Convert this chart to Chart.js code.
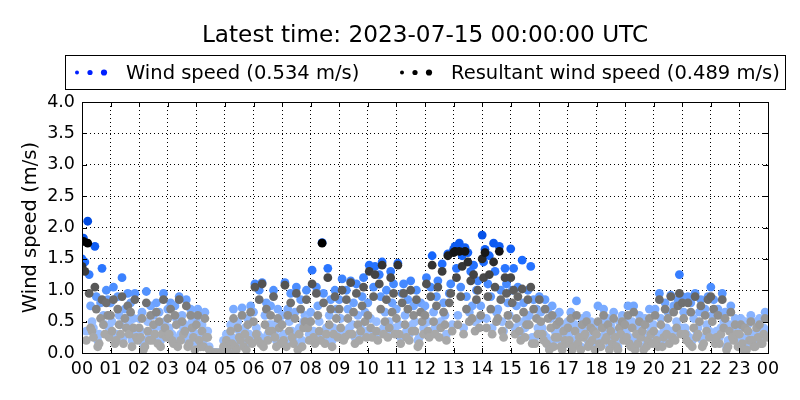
<!DOCTYPE html>
<html><head><meta charset="utf-8">
<script src="https://cdn.jsdelivr.net/npm/chart.js@4.4.0/dist/chart.umd.min.js"></script>
<style>html,body{margin:0;padding:0;background:#fff}#wrap{width:800px;height:400px}</style>
</head><body><div id="wrap"><canvas id="c" width="800" height="400"></canvas></div>
<script>
const titleText = 'Latest time: 2023-07-15 00:00:00 UTC';
const windLabel = 'Wind speed (0.534 m/s)';
const resLabel = 'Resultant wind speed (0.489 m/s)';
const hourLabels = ['00','01','02','03','04','05','06','07','08','09','10','11','12','13','14','15','16','17','18','19','20','21','22','23','00'];
const yTicks = [0,0.5,1,1.5,2,2.5,3,3.5,4];
const minutesStep = 3; // one sample every 3 minutes, 20 per hour
const windSpeed = [
1.50,1.83,1.45,0.35,2.10,1.25,0.75,0.50,0.40,1.70,0.90,0.20,0.30,0.80,1.35,0.60,0.45,1.00,0.85,0.40,
0.80,0.50,1.05,0.25,0.30,0.90,0.60,0.45,1.20,0.25,0.70,0.55,0.95,0.45,0.80,0.20,0.55,0.95,0.35,0.30,
0.55,0.35,0.65,0.15,0.20,0.98,0.50,0.30,0.75,0.30,0.60,0.40,0.80,0.25,0.65,0.20,0.40,0.95,0.50,0.35,
0.70,0.40,0.80,0.30,0.25,0.75,0.55,0.20,0.90,0.30,0.60,0.40,0.45,0.85,0.20,0.25,0.70,0.50,0.35,0.15,
0.55,0.70,0.30,0.20,0.45,0.20,0.65,0.35,0.35,0.10,0.02,0.00,0.00,0.01,0.00,0.00,0.00,0.00,0.03,0.20,
0.10,0.30,0.20,0.05,0.45,0.25,0.70,0.20,0.15,0.50,0.35,0.30,0.72,0.20,0.40,0.15,0.55,0.30,0.75,0.25,
0.65,1.10,0.40,0.30,1.00,0.25,1.12,0.20,0.60,0.80,0.30,0.45,0.75,0.45,1.00,0.35,0.20,0.70,0.50,0.25,
0.60,0.30,1.12,0.20,0.70,0.50,0.95,0.35,0.25,0.65,1.05,0.15,0.40,0.85,0.20,0.50,0.60,1.00,0.55,0.30,
0.65,1.32,0.35,0.25,1.05,0.75,0.50,0.30,1.76,0.95,0.25,0.40,1.35,0.60,0.85,0.20,0.40,1.00,0.70,0.35,
0.85,0.55,1.18,0.30,0.35,1.00,0.70,0.40,1.15,0.45,0.80,0.25,1.10,0.60,0.30,0.45,0.90,1.20,0.65,0.35,
0.80,1.40,0.55,0.35,1.05,1.38,0.50,0.30,1.25,0.90,1.45,0.40,0.65,1.00,0.35,0.50,1.30,0.80,1.10,0.40,
0.70,1.43,0.45,0.25,0.95,1.10,0.60,0.35,0.85,0.30,1.15,0.45,0.75,0.50,1.00,0.20,0.25,0.80,0.65,0.40,
0.75,1.20,0.50,0.35,1.05,1.55,0.65,0.40,0.90,1.15,0.40,0.50,1.42,0.80,0.60,0.30,1.58,0.95,1.10,0.45,
1.65,1.70,1.35,0.60,1.75,1.05,1.55,0.40,1.68,0.90,1.60,0.65,1.30,0.75,1.40,0.50,1.00,1.15,0.55,0.75,
1.88,1.45,1.65,0.55,1.10,1.55,0.90,0.40,1.75,1.30,0.65,0.70,1.70,1.00,0.50,0.35,1.35,1.10,0.80,0.60,
1.66,1.00,1.35,0.40,0.75,1.05,0.50,0.30,1.48,0.80,0.40,0.55,1.00,0.60,1.38,0.25,0.85,0.25,0.70,0.40,
0.90,0.65,0.40,0.30,0.85,0.25,0.70,0.10,0.55,0.75,0.20,0.35,0.60,0.35,0.65,0.20,0.10,0.45,0.30,0.25,
0.50,0.30,0.65,0.10,0.20,0.45,0.83,0.25,0.35,0.10,0.55,0.35,0.40,0.60,0.20,0.25,0.50,0.30,0.45,0.10,
0.40,0.75,0.25,0.20,0.50,0.70,0.30,0.35,0.55,0.10,0.45,0.25,0.65,0.35,0.20,0.10,0.50,0.40,0.60,0.30,
0.55,0.35,0.75,0.25,0.20,0.50,0.75,0.10,0.40,0.25,0.60,0.35,0.45,0.10,0.55,0.20,0.30,0.70,0.40,0.25,
0.45,0.70,0.30,0.20,0.95,0.55,0.20,0.35,0.80,0.40,0.65,0.25,0.92,0.35,0.75,0.30,0.50,0.85,1.25,0.40,
0.90,0.65,0.40,0.30,0.90,0.25,0.80,0.20,0.55,0.95,0.35,0.40,0.65,0.85,0.20,0.25,0.70,0.45,0.90,0.35,
1.05,0.60,0.85,0.25,0.35,0.70,0.25,0.40,0.95,0.50,0.65,0.10,0.20,0.45,0.75,0.35,0.30,0.55,0.40,0.20,
0.40,0.55,0.25,0.10,0.50,0.10,0.45,0.30,0.60,0.30,0.20,0.20,0.50,0.35,0.55,0.25,0.25,0.40,0.65,0.35
];
const resultantSpeed = [
1.38,1.78,1.30,0.20,1.75,0.95,0.40,0.35,0.25,1.05,0.70,0.10,0.15,0.55,0.85,0.45,0.30,0.80,0.60,0.25,
0.60,0.35,0.85,0.15,0.20,0.70,0.45,0.30,0.90,0.15,0.55,0.40,0.75,0.30,0.65,0.10,0.40,0.85,0.25,0.20,
0.40,0.25,0.55,0.05,0.10,0.80,0.35,0.20,0.60,0.20,0.45,0.30,0.65,0.15,0.50,0.10,0.30,0.85,0.40,0.25,
0.55,0.30,0.70,0.20,0.15,0.60,0.45,0.10,0.85,0.20,0.50,0.30,0.35,0.75,0.10,0.15,0.60,0.40,0.25,0.05,
0.45,0.60,0.20,0.10,0.35,0.10,0.55,0.25,0.25,0.05,0.00,0.00,0.00,0.00,0.00,0.00,0.00,0.00,0.00,0.10,
0.05,0.20,0.10,0.00,0.35,0.15,0.55,0.10,0.05,0.40,0.25,0.20,0.60,0.10,0.30,0.05,0.45,0.20,0.65,0.15,
0.50,1.05,0.30,0.20,0.85,0.15,1.10,0.10,0.45,0.70,0.20,0.35,0.60,0.35,0.90,0.25,0.10,0.55,0.40,0.15,
0.45,0.20,1.08,0.10,0.60,0.35,0.80,0.25,0.15,0.55,0.95,0.05,0.30,0.70,0.10,0.40,0.50,0.85,0.40,0.20,
0.50,1.10,0.25,0.15,0.95,0.60,0.35,0.20,1.75,0.80,0.15,0.30,1.20,0.45,0.70,0.10,0.30,0.90,0.55,0.25,
0.70,0.40,1.00,0.20,0.25,0.85,0.55,0.30,1.12,0.30,0.65,0.15,0.95,0.45,0.20,0.35,0.75,1.05,0.50,0.25,
0.60,1.30,0.40,0.25,0.90,1.25,0.35,0.20,1.10,0.70,1.40,0.30,0.50,0.85,0.25,0.40,1.20,0.65,0.95,0.30,
0.55,1.40,0.30,0.15,0.80,0.95,0.45,0.25,0.70,0.20,1.00,0.35,0.60,0.35,0.85,0.10,0.15,0.65,0.50,0.30,
0.60,1.10,0.35,0.25,0.90,1.40,0.50,0.30,0.75,1.05,0.25,0.40,1.30,0.65,0.45,0.20,1.55,0.80,0.95,0.35,
1.60,1.62,1.20,0.45,1.62,0.90,1.38,0.30,1.62,0.70,1.45,0.50,1.15,0.55,1.25,0.35,0.85,1.00,0.40,0.60,
1.50,1.20,1.60,0.40,0.90,1.25,0.70,0.30,1.45,1.05,0.50,0.55,1.62,0.85,0.35,0.25,1.20,0.95,0.60,0.45,
1.20,0.80,1.00,0.30,0.55,0.90,0.35,0.20,1.02,0.65,0.25,0.45,0.85,0.45,1.05,0.15,0.70,0.15,0.55,0.30,
0.85,0.50,0.30,0.20,0.70,0.15,0.55,0.05,0.40,0.60,0.10,0.25,0.45,0.25,0.50,0.10,0.05,0.35,0.20,0.15,
0.40,0.20,0.55,0.05,0.10,0.35,0.60,0.15,0.25,0.05,0.45,0.25,0.30,0.50,0.10,0.15,0.40,0.20,0.35,0.05,
0.30,0.50,0.15,0.10,0.40,0.60,0.20,0.25,0.45,0.05,0.35,0.15,0.55,0.25,0.10,0.05,0.40,0.30,0.50,0.20,
0.45,0.25,0.60,0.15,0.10,0.40,0.65,0.05,0.30,0.15,0.50,0.25,0.35,0.05,0.45,0.10,0.20,0.55,0.30,0.15,
0.35,0.60,0.20,0.10,0.85,0.45,0.10,0.25,0.70,0.30,0.55,0.15,0.90,0.25,0.65,0.20,0.40,0.75,0.95,0.30,
0.80,0.55,0.30,0.20,0.80,0.15,0.65,0.10,0.40,0.90,0.25,0.30,0.50,0.75,0.10,0.15,0.60,0.35,0.85,0.25,
0.90,0.50,0.70,0.15,0.25,0.60,0.15,0.30,0.85,0.40,0.55,0.05,0.10,0.35,0.65,0.25,0.20,0.45,0.30,0.10,
0.30,0.45,0.15,0.05,0.40,0.05,0.35,0.20,0.50,0.20,0.10,0.10,0.40,0.25,0.45,0.15,0.15,0.30,0.55,0.25
];

function lerpStops(stops, v){
  if (v <= stops[0][0]) return stops[0][1];
  for (let i=1;i<stops.length;i++){
    if (v <= stops[i][0]){
      const a=stops[i-1], b=stops[i], t=(v-a[0])/(b[0]-a[0]);
      return a[1].map((c,k)=>Math.round(c+(b[1][k]-c)*t));
    }
  }
  return stops[stops.length-1][1];
}
const blueStops = [[0.5,[150,188,255]],[1.0,[80,145,255]],[1.5,[25,105,255]],[2.0,[0,75,225]]];
const grayStops = [[0.3,[168,168,168]],[0.55,[150,150,150]],[0.8,[112,112,112]],[1.2,[72,72,72]],[1.5,[40,40,40]],[1.75,[0,0,0]]];
const rgb = c => `rgb(${c[0]},${c[1]},${c[2]})`;

const windPts = windSpeed.map((v,i)=>({x:i*minutesStep, y:v}));
const resPts = resultantSpeed.map((v,i)=>({x:i*minutesStep, y:v}));

const FONT = 'DejaVu Sans';

const decor = {
  id:'decor',
  afterDraw(chart){
    const {ctx, chartArea:a, scales:{x,y}} = chart;
    ctx.save();
    ctx.strokeStyle='#000'; ctx.lineWidth=1;
    ctx.beginPath();
    for (let m=0;m<=1440;m+=60){
      const px=Math.round(x.getPixelForValue(m))+0.5;
      ctx.moveTo(px,a.bottom); ctx.lineTo(px,a.bottom-5);
      ctx.moveTo(px,a.top); ctx.lineTo(px,a.top+5);
    }
    yTicks.forEach(v=>{
      const py=Math.round(y.getPixelForValue(v))+0.5;
      ctx.moveTo(a.left,py); ctx.lineTo(a.left+5,py);
      ctx.moveTo(a.right,py); ctx.lineTo(a.right-5,py);
    });
    ctx.stroke();
    ctx.strokeRect(Math.round(a.left)+0.5, Math.round(a.top)+0.5, Math.round(a.right-a.left), Math.round(a.bottom-a.top));
    ctx.fillStyle='#000';
    ctx.font=`23.2px "${FONT}"`;
    ctx.textAlign='center'; ctx.textBaseline='alphabetic';
    ctx.fillText(titleText,(a.left+a.right)/2,42);
    ctx.strokeRect(65.5,55.5,720,34);
    ctx.font=`19.5px "${FONT}"`;
    ctx.textAlign='left';
    const ly=72.5;
    const drawDots=(x0,col)=>{
      ctx.fillStyle=col;
      [[x0,2.0],[x0+13,2.6],[x0+27,3.1]].forEach(([cx,r])=>{ctx.beginPath();ctx.arc(cx,ly,r,0,Math.PI*2);ctx.fill();});
    };
    drawDots(77,'#0020ff');
    ctx.fillStyle='#000'; ctx.fillText(windLabel,126,79);
    drawDots(402,'#000');
    ctx.fillStyle='#000'; ctx.fillText(resLabel,451,79);
    ctx.restore();
  }
};

new Chart(document.getElementById('c'),{
  type:'scatter',
  data:{datasets:[
    {label:windLabel, data:windPts, order:2, pointRadius:4.4, pointHoverRadius:4.4, borderWidth:0,
     backgroundColor:c=>rgb(lerpStops(blueStops,c.raw?c.raw.y:0))},
    {label:resLabel, data:resPts, order:1, pointRadius:4.4, pointHoverRadius:4.4, borderWidth:0,
     backgroundColor:c=>rgb(lerpStops(grayStops,c.raw?c.raw.y:0))}
  ]},
  options:{
    responsive:false, animation:false, devicePixelRatio:1,
    layout:{padding:{top:102,right:32,left:0,bottom:0}},
    plugins:{legend:{display:false},title:{display:false},tooltip:{enabled:false}},
    events:[],
    scales:{
      x:{type:'linear',min:0,max:1440,
        afterBuildTicks:s=>{s.ticks=hourLabels.map((_,i)=>({value:i*60}));},
        afterFit:s=>{s.height=47;},
        ticks:{callback:v=>hourLabels[Math.round(v/60)],color:'#000',font:{family:FONT,size:17.5},padding:6,maxRotation:0,autoSkip:false},
        grid:{color:'#000',lineWidth:1,drawTicks:false},
        border:{display:false,dash:[1,3]}
      },
      y:{type:'linear',min:0,max:4,
        afterBuildTicks:s=>{s.ticks=yTicks.map(v=>({value:v}));},
        afterFit:s=>{s.width=82;},
        ticks:{callback:v=>v.toFixed(1),color:'#000',font:{family:FONT,size:17.5},padding:7},
        grid:{color:'#000',lineWidth:1,drawTicks:false},
        border:{display:false,dash:[1,3]},
        title:{display:true,text:'Wind speed (m/s)',color:'#000',font:{family:FONT,size:19.5},padding:{top:19,bottom:0}}
      }
    }
  },
  plugins:[decor]
});
</script></body></html>
